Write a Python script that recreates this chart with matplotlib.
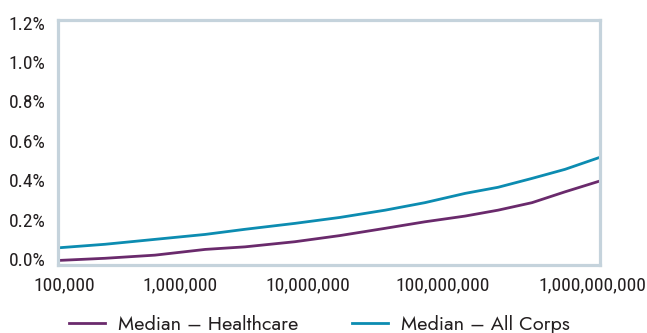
import numpy as np
import matplotlib.pyplot as plt
from matplotlib.ticker import FixedLocator

# revenue size (log x), in dollars
size = [100000, 222000, 520000, 1220000, 2400000, 5600000, 12000000,
        26000000, 51000000, 101000000, 177000000, 315000000, 552000000, 1000000000]
healthcare = [-0.006, 0.005, 0.021, 0.050, 0.063, 0.089, 0.120,
              0.157, 0.190, 0.219, 0.249, 0.287, 0.342, 0.397]
all_corps = [0.058, 0.076, 0.101, 0.126, 0.152, 0.182, 0.212,
             0.249, 0.287, 0.334, 0.365, 0.410, 0.456, 0.517]

x_labels = ['100,000', '1,000,000', '10,000,000', '100,000,000', '1,000,000,000']
y_ticks = [0.0, 0.2, 0.4, 0.6, 0.8, 1.0, 1.2]

purple = '#6a2a6c'
teal = '#0c8cb1'
frame = '#c5d3dc'
text_col = '#231f20'

plt.rcParams['font.family'] = ['Roboto Condensed', 'DejaVu Sans']
plt.rcParams['font.stretch'] = 'condensed'

fig = plt.figure(figsize=(6.47, 3.33), dpi=100)
ax = fig.add_axes([58 / 647, 1 - 265 / 333, (600 - 58) / 647, (265 - 20) / 333])

ax.plot(size, healthcare, color=purple, lw=2.0, label='Median – Healthcare')
ax.plot(size, all_corps, color=teal, lw=2.0, label='Median – All Corps')

ax.set_xscale('log')
ax.set_xlim(1e5, 1e9)
ax.set_ylim(-0.029, 1.213)

# labels sit where the original put them, not exactly on the decades
label_pos = [10 ** (5 + 4 * (p - 58) / 542) for p in [64, 180, 308, 443, 592]]
ax.xaxis.set_major_locator(FixedLocator(label_pos))
ax.xaxis.set_minor_locator(FixedLocator([]))
ax.set_xticklabels(x_labels)
ax.set_yticks(y_ticks)
ax.set_yticklabels(['%.1f%%' % v for v in y_ticks])
ax.tick_params(length=0, labelsize=14, colors=text_col)
ax.tick_params(axis='y', pad=9)
ax.tick_params(axis='x', pad=8)

for s in ax.spines.values():
    s.set_color(frame)
    s.set_linewidth(2.3)

fig.legend(loc='center', bbox_to_anchor=(319 / 647, 1 - 324 / 333), ncol=2,
           frameon=False, handlelength=1.85, handletextpad=0.62, columnspacing=2.7,
           prop={'family': ['Jost', 'DejaVu Sans'], 'size': 14.3}, labelcolor=text_col)

fig.savefig('out.png', dpi=100)
